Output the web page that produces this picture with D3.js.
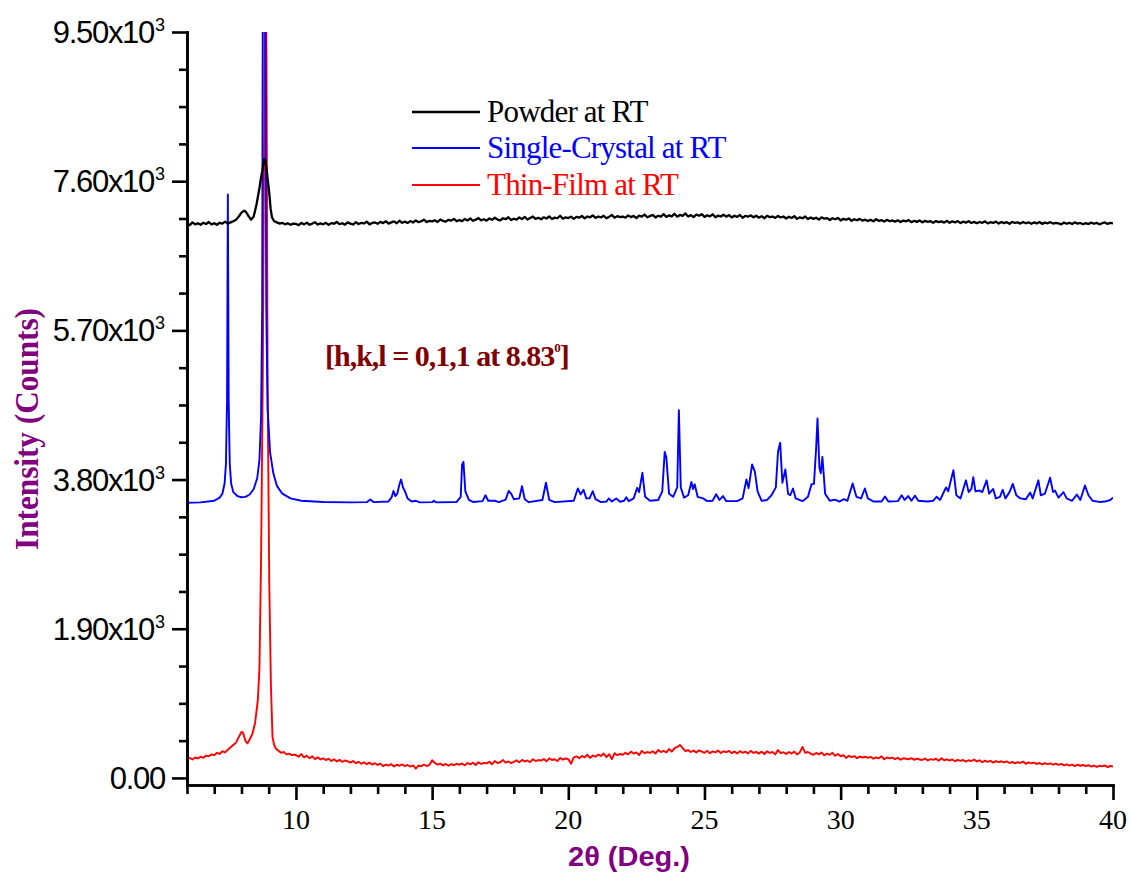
<!DOCTYPE html>
<html>
<head>
<meta charset="utf-8">
<script src="https://cdn.jsdelivr.net/npm/d3@7"></script>
<style>
  body { margin: 0; background: #fff; }
  svg { display: block; }
  .axis path, .axis line { stroke: #000; stroke-width: 2.6px; }
</style>
</head>
<body>
<svg id="chart"></svg>
<script>
// ---------------- data ----------------
const seriesNames = ["Powder at RT", "Single-Crystal at RT", "Thin-Film at RT"];
const seriesColors = ["#000000", "#0000ff", "#ff0000"];

const yTickValues = [0, 1900, 3800, 5700, 7600, 9500];
const yTickMantissa = ["0.00", "1.90x10", "3.80x10", "5.70x10", "7.60x10", "9.50x10"];
const xTickValues = [10, 15, 20, 25, 30, 35, 40];

// powder, 6-10 deg  [2theta, counts]
const powderPeak = [[6.0,7060],[6.1,7040],[6.2,7075],[6.3,7050],[6.4,7065],[6.5,7045],[6.6,7070],[6.7,7055],
  [6.8,7080],[6.9,7050],[7.0,7065],[7.1,7045],[7.2,7070],[7.3,7060],[7.4,7085],[7.5,7060],[7.6,7075],
  [7.7,7090],[7.8,7110],[7.9,7150],[8.0,7200],[8.1,7225],[8.15,7215],[8.25,7160],[8.35,7110],[8.45,7150],
  [8.55,7300],[8.65,7490],[8.72,7650],[8.78,7760],[8.84,7880],[8.88,7860],[8.92,7760],[8.97,7600],
  [9.02,7450],[9.07,7250],[9.12,7140],[9.2,7090],[9.3,7075],[9.4,7060],[9.5,7070],[9.6,7050],
  [9.7,7065],[9.8,7045],[9.9,7060]];

// powder, 10.0-40.0 deg every 0.1 deg
const powderTail = [
  7055,7040,7068,7050,7072,7045,7060,7078,7048,7062,
  7050,7070,7044,7066,7058,7080,7052,7064,7046,7075,
  7060,7048,7078,7055,7070,7062,7085,7050,7068,7074,
  7058,7082,7066,7090,7060,7075,7088,7064,7096,7070,
  7085,7068,7092,7074,7100,7078,7090,7110,7080,7095,
  7088,7102,7080,7112,7094,7085,7108,7098,7120,7090,
  7105,7092,7118,7100,7125,7096,7110,7130,7102,7115,
  7098,7125,7108,7135,7112,7100,7128,7116,7140,7106,
  7122,7110,7138,7118,7145,7112,7130,7150,7120,7134,
  7115,7140,7125,7152,7118,7136,7128,7160,7122,7140,
  7130,7148,7120,7145,7135,7158,7126,7150,7140,7165,
  7132,7150,7138,7160,7128,7146,7170,7135,7155,7142,
  7150,7135,7165,7142,7158,7130,7162,7148,7175,7140,
  7155,7170,7138,7160,7150,7180,7145,7165,7152,7185,
  7148,7170,7158,7190,7150,7168,7142,7175,7160,7180,
  7145,7165,7152,7178,7140,7162,7150,7172,7148,7168,
  7138,7160,7145,7170,7135,7158,7148,7165,7140,7160,
  7135,7155,7128,7160,7142,7150,7132,7158,7138,7150,
  7125,7148,7132,7155,7120,7140,7128,7150,7118,7138,
  7120,7135,7110,7140,7122,7130,7105,7128,7115,7132,
  7100,7122,7108,7125,7095,7115,7102,7120,7098,7110,
  7092,7110,7088,7115,7095,7105,7085,7108,7090,7100,
  7085,7102,7080,7098,7088,7105,7078,7095,7082,7100,
  7075,7095,7082,7090,7070,7092,7078,7088,7072,7095,
  7070,7088,7075,7092,7066,7085,7072,7090,7068,7082,
  7065,7080,7070,7088,7062,7078,7068,7085,7060,7080,
  7066,7078,7058,7082,7068,7075,7060,7080,7064,7076,
  7058,7075,7062,7080,7056,7072,7064,7078,7060,7070,
  7062,7050,7074,7058,7070,7055,7076,7060,7068,7052,
  7066,7054,7072,7058,7070,7050,7064,7075,7056,7068,
  7062];

// single crystal (simulated pattern)  [2theta, counts]
const crystal = [[6.0,3505],[6.5,3510],[7.0,3530],[7.2,3570],[7.3,3620],[7.38,3750],[7.43,4000],[7.47,4800],
  [7.5,7430],[7.53,4800],[7.57,4000],[7.62,3750],[7.7,3640],[7.85,3590],[8.0,3575],[8.15,3580],[8.3,3610],
  [8.45,3680],[8.58,3820],[8.66,4050],[8.72,4600],[8.76,6000],[8.78,9500],[8.83,14000],[8.88,9500],
  [8.91,6000],[8.96,4700],[9.05,4150],[9.17,3880],[9.3,3720],[9.5,3620],[9.8,3560],[10.2,3530],[11,3515],
  [12,3510],[12.6,3512],[12.73,3545],[12.86,3512],[13.4,3520],[13.52,3580],[13.58,3655],[13.65,3590],
  [13.72,3620],[13.8,3740],[13.86,3800],[13.93,3700],[14.01,3645],[14.1,3560],[14.25,3520],[14.41,3530],
  [14.55,3510],[15.0,3512],[15.06,3530],[15.15,3510],[15.9,3515],[16.05,3580],[16.1,3990],[16.15,4025],
  [16.22,3650],[16.35,3540],[16.5,3515],[16.85,3525],[16.96,3600],[17.06,3530],[17.3,3530],[17.45,3512],
  [17.7,3545],[17.81,3655],[17.9,3620],[18.0,3550],[18.2,3560],[18.3,3715],[18.4,3550],[18.55,3512],
  [19.05,3540],[19.18,3760],[19.3,3540],[19.5,3512],[20.2,3530],[20.35,3686],[20.45,3610],[20.56,3670],
  [20.66,3560],[20.78,3560],[20.9,3652],[21.0,3550],[21.2,3512],[21.4,3520],[21.49,3560],[21.6,3520],
  [21.76,3560],[21.9,3518],[22.05,3530],[22.13,3575],[22.22,3525],[22.4,3560],[22.53,3695],[22.6,3640],
  [22.72,3886],[22.82,3580],[23.0,3530],[23.3,3540],[23.45,3650],[23.54,4153],[23.6,4080],[23.7,3620],
  [23.85,3580],[24.0,3700],[24.06,4684],[24.13,3700],[24.25,3570],[24.4,3600],[24.52,3770],[24.58,3680],
  [24.64,3740],[24.75,3580],[24.95,3560],[25.1,3525],[25.3,3530],[25.43,3614],[25.55,3540],[25.68,3590],
  [25.8,3525],[26.2,3525],[26.4,3560],[26.54,3801],[26.62,3690],[26.75,3992],[26.85,3900],[26.95,3650],
  [27.1,3530],[27.3,3540],[27.46,3600],[27.62,3700],[27.7,4153],[27.78,4268],[27.86,3760],[27.97,3928],
  [28.07,3620],[28.15,3600],[28.25,3686],[28.35,3560],[28.6,3525],[28.8,3580],[28.93,3741],[29.02,3745],
  [29.1,4200],[29.15,4578],[29.22,3950],[29.27,3880],[29.33,4089],[29.43,3620],[29.6,3530],[29.8,3545],
  [29.95,3520],[30.12,3550],[30.25,3530],[30.44,3750],[30.58,3580],[30.75,3560],[30.89,3686],[31.0,3560],
  [31.2,3520],[31.5,3520],[31.63,3585],[31.75,3520],[32.1,3525],[32.24,3600],[32.35,3540],[32.48,3590],
  [32.6,3530],[32.73,3595],[32.85,3530],[33.2,3520],[33.4,3530],[33.52,3580],[33.65,3540],[33.87,3700],
  [33.95,3650],[34.14,3920],[34.25,3600],[34.4,3560],[34.6,3790],[34.7,3640],[34.8,3680],[34.87,3830],
  [34.95,3650],[35.1,3660],[35.2,3640],[35.36,3790],[35.45,3620],[35.6,3680],[35.7,3560],[35.85,3580],
  [35.95,3670],[36.05,3560],[36.2,3640],[36.32,3745],[36.45,3600],[36.6,3560],[36.8,3550],[36.96,3635],
  [37.05,3560],[37.26,3790],[37.35,3600],[37.5,3620],[37.69,3823],[37.8,3640],[37.87,3660],[38.0,3570],
  [38.18,3640],[38.3,3560],[38.5,3530],[38.67,3610],[38.8,3540],[38.97,3725],[39.1,3600],[39.25,3530],
  [39.5,3515],[39.7,3520],[39.9,3540],[40.0,3570]];

// thin film, 6-10 deg  [2theta, counts]
const filmPeak = [[6.0,240],[6.1,255],[6.2,235],[6.3,260],[6.4,248],[6.5,270],[6.6,255],[6.7,285],[6.8,275],
  [6.9,300],[7.0,290],[7.1,320],[7.2,305],[7.3,340],[7.4,325],[7.5,360],[7.6,390],[7.7,420],[7.8,450],
  [7.9,520],[8.0,585],[8.05,580],[8.15,470],[8.22,440],[8.3,490],[8.4,560],[8.5,700],[8.6,990],[8.66,1400],
  [8.72,2800],[8.78,5000],[8.84,8500],[8.88,12000],[8.92,9000],[8.96,5000],[9.02,2500],[9.08,1200],
  [9.14,520],[9.2,420],[9.26,375],[9.35,350],[9.45,320],[9.55,330],[9.65,300],[9.75,310],[9.85,290],
  [9.95,298]];

// thin film, 10.0-40.0 deg every 0.1 deg
const filmTail = [
  290,270,305,260,285,250,275,240,262,235,
  250,228,245,215,238,210,230,205,222,212,
  195,215,188,205,180,200,175,195,170,188,
  165,182,150,170,158,175,145,168,155,172,
  150,165,145,160,120,158,148,170,152,165,
  225,190,170,182,160,178,155,175,162,180,
  168,185,160,190,172,195,165,200,178,192,
  185,205,175,215,190,200,230,195,210,188,
  205,225,198,230,210,222,200,238,215,228,
  220,242,212,250,228,238,215,255,232,248,
  240,180,262,275,250,280,262,295,255,285,
  270,298,280,310,265,302,240,315,290,305,
  295,320,300,335,310,325,290,345,315,330,
  320,340,310,355,330,345,325,368,335,380,
  395,420,380,340,355,330,348,325,352,335,
  320,345,315,338,325,350,318,340,328,345,
  315,338,310,342,320,335,312,345,318,332,
  310,335,305,340,318,330,300,355,315,328,
  305,330,310,335,300,325,395,318,330,310,
  295,318,300,325,288,310,295,320,282,305,
  275,290,255,282,265,278,250,272,260,270,
  255,268,245,262,250,275,238,260,248,258,
  240,255,232,250,245,238,252,230,245,235,
  228,248,222,240,230,245,218,252,225,238,
  220,235,212,230,218,228,208,225,215,235,
  210,225,200,220,205,218,195,215,202,212,
  198,210,190,205,185,200,192,208,180,198,
  185,195,178,190,172,188,175,185,168,182,
  165,178,160,172,158,170,150,168,155,165,
  150,162,145,158,140,155,148,160,138,152,
  145];

// ---------------- chart ----------------
const width = 1132, height = 876;
const margin = {top: 32, right: 19, bottom: 91, left: 187};
const serif = "'Liberation Serif', 'Times New Roman', Times, serif";
const sans = "'Liberation Sans', Arial, Helvetica, sans-serif";

const svg = d3.select("#chart").attr("width", width).attr("height", height);

const x = d3.scaleLinear().domain([6, 40]).range([margin.left, width - margin.right]);
const y = d3.scaleLinear().domain([-90, 9500]).range([height - margin.bottom, margin.top]);

// tail arrays sit on a 0.1 deg grid starting at 10
const onGrid = vals => vals.map((v, i) => [10 + i / 10, v]);
const series = [
  powderPeak.concat(onGrid(powderTail)),
  crystal,
  filmPeak.concat(onGrid(filmTail))
];
const strokeW = [2.3, 1.9, 1.9];

svg.append("defs").append("clipPath").attr("id", "plot-clip")
  .append("rect")
  .attr("x", margin.left).attr("y", margin.top)
  .attr("width", width - margin.left - margin.right)
  .attr("height", height - margin.top - margin.bottom);

const line = d3.line().x(d => x(d[0])).y(d => y(d[1]));

const plot = svg.append("g").attr("clip-path", "url(#plot-clip)");
// draw order: film, crystal, powder
[2, 1, 0].forEach(i => {
  plot.append("path")
    .datum(series[i])
    .attr("fill", "none")
    .attr("stroke", seriesColors[i])
    .attr("stroke-width", strokeW[i])
    .attr("stroke-linejoin", "round")
    .attr("d", line);
});

// ---- axes ----
const xMinor = d3.range(6, 41, 1).filter(v => v % 5 !== 0);
const yMinor = d3.range(0, 9501, 475).filter(v => v % 1900 !== 0);

svg.append("g").attr("class", "axis")
  .attr("transform", `translate(0,${height - margin.bottom})`)
  .call(d3.axisBottom(x).tickValues(xMinor).tickSize(9).tickFormat("").tickSizeOuter(0));
svg.append("g").attr("class", "axis")
  .attr("transform", `translate(0,${height - margin.bottom})`)
  .call(d3.axisBottom(x).tickValues(xTickValues).tickSize(15).tickFormat("").tickSizeOuter(0));

svg.append("g").attr("class", "axis")
  .attr("transform", `translate(${margin.left},0)`)
  .call(d3.axisLeft(y).tickValues(yMinor).tickSize(8).tickFormat("").tickSizeOuter(0));
svg.append("g").attr("class", "axis")
  .attr("transform", `translate(${margin.left},0)`)
  .call(d3.axisLeft(y).tickValues(yTickValues).tickSize(15).tickFormat("").tickSizeOuter(0));

svg.selectAll(".axis .domain").attr("stroke-linecap", "square");

// x tick labels (serif)
svg.append("g").selectAll("text")
  .data(xTickValues)
  .join("text")
  .attr("x", d => x(d))
  .attr("y", 829)
  .attr("text-anchor", "middle")
  .style("font-family", serif)
  .style("font-size", "28px")
  .text(d => d);

// y tick labels (sans, with x10^3)
const yLab = svg.append("g").selectAll("text")
  .data(yTickValues)
  .join("text")
  .attr("x", 165)
  .attr("y", d => y(d) + 11)
  .attr("text-anchor", "end")
  .style("font-family", sans)
  .style("font-size", "31px")
  .style("letter-spacing", "-1.3px")
  .text((d, i) => yTickMantissa[i]);
yLab.filter(d => d > 0).append("tspan")
  .style("font-size", "18px")
  .style("letter-spacing", "0px")
  .attr("dx", 1)
  .attr("dy", -12)
  .text("3");

// axis titles
svg.append("text")
  .attr("transform", `translate(38,429) rotate(-90)`)
  .attr("text-anchor", "middle")
  .style("font-family", serif)
  .style("font-weight", "bold")
  .style("font-size", "34px")
  .attr("fill", "#800080")
  .attr("textLength", 242)
  .attr("lengthAdjust", "spacingAndGlyphs")
  .text("Intensity (Counts)");

svg.append("text")
  .attr("x", 629)
  .attr("y", 866)
  .attr("text-anchor", "middle")
  .style("font-family", sans)
  .style("font-weight", "bold")
  .style("font-size", "28px")
  .attr("fill", "#800080")
  .attr("textLength", 122)
  .attr("lengthAdjust", "spacingAndGlyphs")
  .text("2θ (Deg.)");

// legend
const legend = svg.append("g");
const legendY = [112, 148, 185];
seriesNames.forEach((name, i) => {
  legend.append("line")
    .attr("x1", 412).attr("x2", 480)
    .attr("y1", legendY[i]).attr("y2", legendY[i])
    .attr("stroke", seriesColors[i])
    .attr("stroke-width", i === 0 ? 2.6 : 2);
  legend.append("text")
    .attr("x", 487)
    .attr("y", legendY[i] + 10)
    .style("font-family", serif)
    .style("font-size", "31px")
    .style("letter-spacing", "-0.8px")
    .attr("fill", seriesColors[i])
    .text(name);
});

// annotation
const note = svg.append("text")
  .attr("x", 325)
  .attr("y", 366)
  .style("font-family", serif)
  .style("font-weight", "bold")
  .style("font-size", "30px")
  .style("letter-spacing", "-1px")
  .attr("fill", "#800000");
note.append("tspan").text("[h,k,l = 0,1,1 at 8.83");
note.append("tspan").style("font-size", "13px").attr("dy", -14).text("0");
note.append("tspan").attr("dy", 14).text("]");
</script>
</body>
</html>
